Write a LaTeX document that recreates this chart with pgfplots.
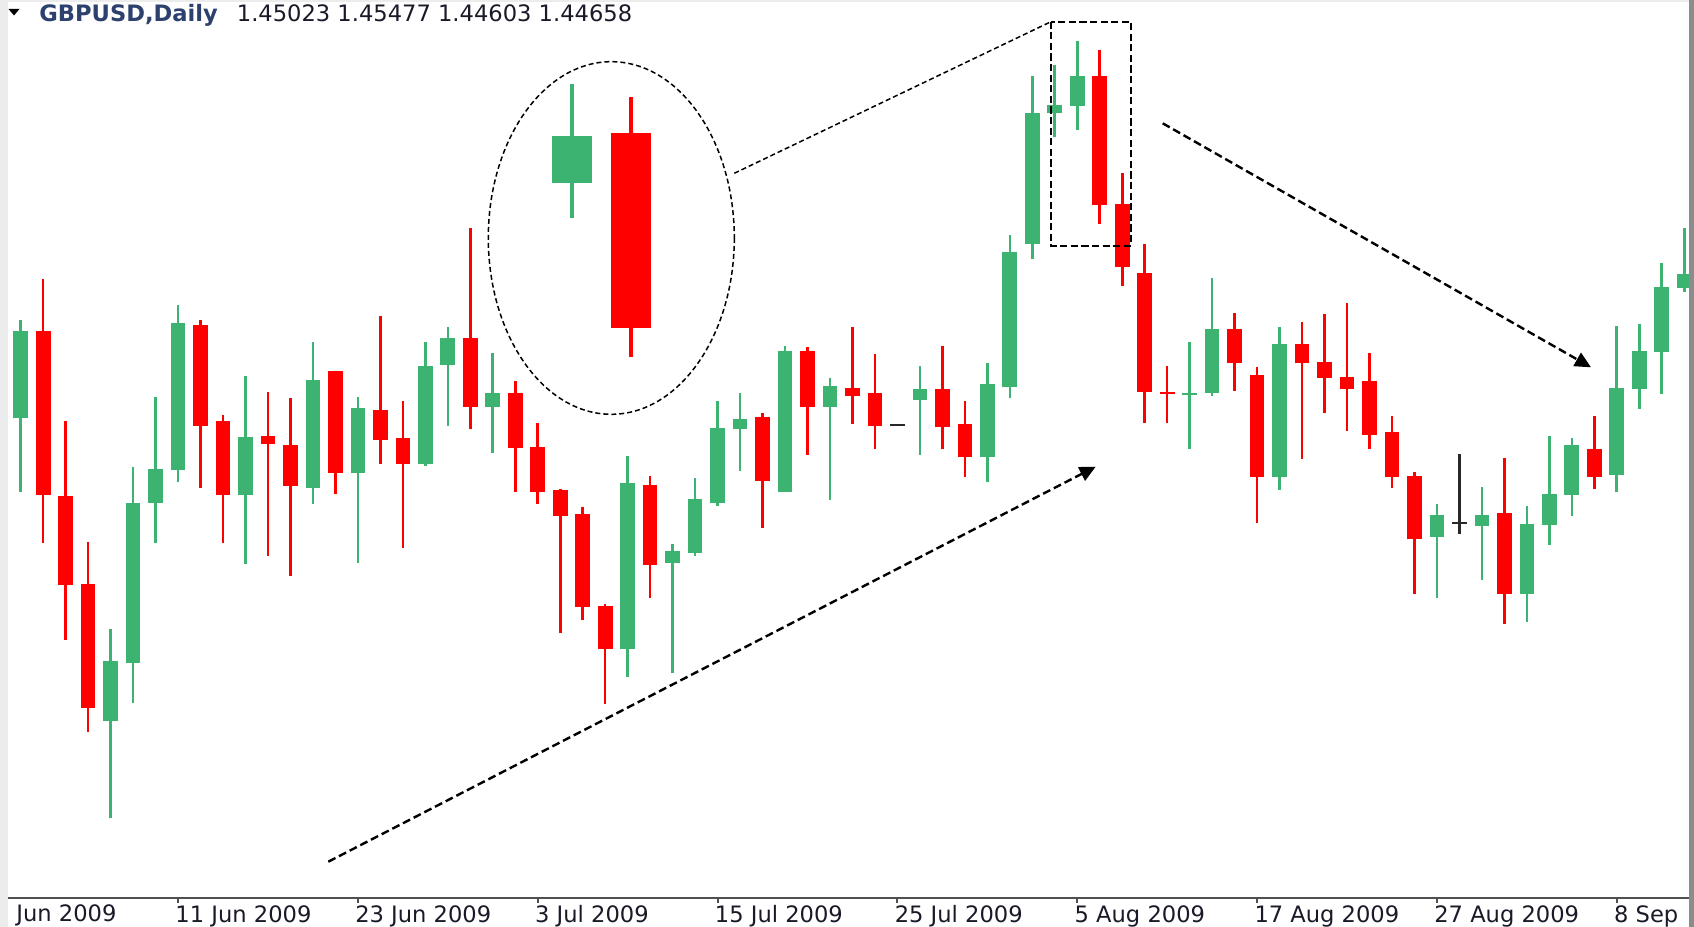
\documentclass[border=0pt]{standalone}
\usepackage{pgfplots}
\pgfplotsset{compat=1.18}
\usepackage{pgfplotstable}
\usepackage{fontspec}
\setmainfont{DejaVu Sans}
\usetikzlibrary{arrows.meta}
\definecolor{bull}{RGB}{60,179,113}
\definecolor{bear}{RGB}{255,0,0}
\definecolor{doji}{RGB}{40,40,40}
\definecolor{axisgray}{RGB}{80,80,80}
\definecolor{leftgray}{RGB}{236,236,236}
\definecolor{rightgray}{RGB}{140,140,140}
\definecolor{labelcol}{RGB}{25,25,40}
\definecolor{symcol}{RGB}{45,65,110}

% candle data in screen units (pixel rows, top = 0): wick top, body top, body bottom, wick bottom
\pgfplotstableread{
i  wt    bt    bb    wb
0  319.7 331.1 418.4 491.9
4  628.9 661.4 721.1 818.3
5  467.0 503.3 662.6 702.7
6  396.6 468.9 503.0 543.2
7  305.5 323.5 470.1 482.3
10 376.3 437.5 495.3 563.8
13 341.8 380.5 488.0 504.5
15 396.6 407.7 473.1 563.0
18 342.0 366.0 464.3 466.0
19 327.3 338.3 365.0 425.7
21 353.3 393.3 407.0 453.0
27 455.7 483.3 649.3 676.7
29 544.0 551.0 563.3 673.3
30 477.7 499.3 552.7 555.7
31 400.7 428.3 502.7 506.0
32 393.3 419.0 429.3 471.0
34 345.7 350.7 491.7 491.7
36 378.3 385.7 407.3 500.5
40 365.7 389.3 400.0 455.0
43 363.3 384.3 456.7 482.5
44 235.3 251.7 387.3 397.7
45 76.0  112.7 244.0 258.7
46 65.0  105.3 113.3 137.3
47 40.7  76.0  106.0 130.0
52 341.7 393.3 394.7 449.3
53 277.7 329.0 392.7 395.7
56 327.3 344.0 477.3 490.0
63 504.0 515.0 537.3 597.7
65 487.3 515.0 526.0 580.0
67 505.7 524.0 594.3 621.7
68 435.7 494.3 525.0 545.0
69 437.7 445.0 495.0 515.7
71 325.7 387.7 475.0 491.7
72 324.0 351.3 389.0 409.0
73 262.7 286.7 352.3 394.0
74 228.3 274.0 287.7 291.7
}\bulltab

\pgfplotstableread{
i  wt    bt    bb    wb
1  279.5 331.1 495.3 543.2
2  421.1 496.1 585.2 640.4
3  542.0 584.5 708.1 732.2
8  319.7 325.4 426.0 488.0
9  415.3 420.7 495.3 543.2
11 391.6 435.6 444.0 556.2
12 398.5 444.8 486.1 576.4
14 371.3 371.3 473.1 493.8
16 315.8 410.0 440.2 464.3
17 400.7 437.7 463.7 548.3
20 228.3 338.3 407.0 429.3
22 380.7 393.3 447.7 492.0
23 422.7 446.7 491.7 504.3
24 488.7 490.3 515.7 633.3
25 507.0 514.3 607.3 620.0
26 604.3 606.0 649.3 704.3
28 476.0 485.0 565.0 598.3
33 413.3 416.7 480.7 528.3
35 347.3 350.7 407.3 455.0
37 327.3 387.7 396.0 424.0
38 354.3 393.3 425.7 449.3
41 345.7 389.3 427.3 449.3
42 400.7 424.3 456.7 476.7
48 50.0  76.0  205.0 224.0
49 172.7 204.0 267.3 286.0
50 244.3 272.7 392.3 423.5
51 366.0 392.0 393.7 423.3
54 312.7 329.0 363.3 390.7
55 367.3 375.0 477.3 523.3
57 321.7 344.0 363.3 459.0
58 314.3 362.3 377.7 412.7
59 303.3 376.7 389.0 431.0
60 353.3 380.7 435.0 449.3
61 415.7 432.0 477.3 488.3
62 471.7 476.0 539.3 594.3
66 457.7 513.0 594.3 624.0
70 415.7 449.0 477.3 489.3
}\beartab

\pgfplotstableread{
i  wt    bt    bb    wb
39 425.0 424.2 425.8 425.0
64 454.0 522.0 523.6 534.0
}\dojitab

\pgfplotsset{
  stick/.style 2 args={draw=none, mark=none, forget plot,
    error bars/.cd, y dir=plus, y explicit, error mark=none,
    error bar style={draw=#1, line width=#2}},
}

\begin{document}
\fontsize{11.3pt}{13pt}\selectfont
\begin{tikzpicture}
\begin{axis}[
  x=11.24pt, y=0.5pt,
  xmin=-0.9208, xmax=74.435, ymin=-897.7, ymax=0,
  axis x line*=bottom, axis y line=none,
  x axis line style={draw=axisgray, line width=1pt, -},
  xtick={7,15,...,71},
  xticklabels={11 Jun 2009, 23 Jun 2009, 3 Jul 2009, 15 Jul 2009, 25 Jul 2009, 5 Aug 2009, 17 Aug 2009, 27 Aug 2009, 8 Sep},
  tick align=outside, major tick length=2.6pt,
  xtick style={draw=axisgray, line width=1pt},
  xticklabel style={anchor=base west, inner sep=0pt, xshift=-1.5pt, yshift=-9.6pt,
     font=\fontsize{11.3pt}{13pt}\selectfont, text=labelcol},
  ytick=\empty,
]
% wicks
\addplot[stick={bull}{1.3pt}] table[x=i, y expr=-\thisrow{wb}, y error plus expr=\thisrow{wb}-\thisrow{wt}] {\bulltab};
\addplot[stick={bear}{1.3pt}] table[x=i, y expr=-\thisrow{wb}, y error plus expr=\thisrow{wb}-\thisrow{wt}] {\beartab};
\addplot[stick={doji}{1.3pt}] table[x=i, y expr=-\thisrow{wb}, y error plus expr=\thisrow{wb}-\thisrow{wt}] {\dojitab};
% bodies
\addplot[stick={bull}{7.35pt}] table[x=i, y expr=-\thisrow{bb}, y error plus expr=\thisrow{bb}-\thisrow{bt}] {\bulltab};
\addplot[stick={bear}{7.35pt}] table[x=i, y expr=-\thisrow{bb}, y error plus expr=\thisrow{bb}-\thisrow{bt}] {\beartab};
\addplot[stick={doji}{7.35pt}] table[x=i, y expr=-\thisrow{bb}, y error plus expr=\thisrow{bb}-\thisrow{bt}] {\dojitab};
% enlarged two-candle inset
\addplot[stick={bull}{2pt}] coordinates {(24.524,-217.7) +- (0,133.7)};
\addplot[stick={bull}{20pt}] coordinates {(24.524,-182.7) +- (0,46.7)};
\addplot[stick={bear}{2pt}] coordinates {(27.149,-356.7) +- (0,259.7)};
\addplot[stick={bear}{20pt}] coordinates {(27.149,-327.7) +- (0,194.7)};
\coordinate (O) at (axis cs:-0.9208,0);
\end{axis}

\begin{scope}[shift={(O)}, x=0.5pt, y=-0.5pt]
  % annotations
  \draw[black, line width=0.75pt, dash pattern=on 2.5pt off 1.5pt]
     (611.3,238) ellipse [x radius=123, y radius=176.3];
  \draw[black, line width=0.75pt, dash pattern=on 2.5pt off 1.5pt]
     (734.3,173.3) -- (1051,21.7);
  \draw[black, line width=1.1pt, dash pattern=on 3.6pt off 1.7pt]
     (1051,21.7) rectangle (1131,245.7);
  \draw[black, line width=1.2pt, dash pattern=on 4pt off 2pt, -{Triangle[length=8pt,width=7.5pt]}]
     (328.3,861.7) -- (1095.7,466.7);
  \draw[black, line width=1.2pt, dash pattern=on 4pt off 2pt, -{Triangle[length=8pt,width=7.5pt]}]
     (1162.7,123.3) -- (1591,367.3);
  % header
  \fill[black] (8.5,9) -- (19.5,9) -- (14,15.5) -- cycle;
  \node[anchor=base west, inner sep=0pt, text=symcol] at (39,21.6) {\bfseries GBPUSD,Daily};
  \node[anchor=base west, inner sep=0pt, text=labelcol] at (236.5,21.6) {1.45023 1.45477 1.44603 1.44658};
  \node[anchor=base west, inner sep=0pt, text=labelcol] at (16,921.5) {Jun 2009};
  % window frame
  \fill[leftgray] (0,0) rectangle (7.5,927);
  \fill[leftgray] (0,0) rectangle (1694,2);
  \fill[rightgray] (1689,0) rectangle (1694,927);
  \coordinate (BL) at (0,927);
  \coordinate (TR) at (1694,0);
\end{scope}
\pgfresetboundingbox
\useasboundingbox (BL) rectangle (TR);
\end{tikzpicture}
\end{document}
